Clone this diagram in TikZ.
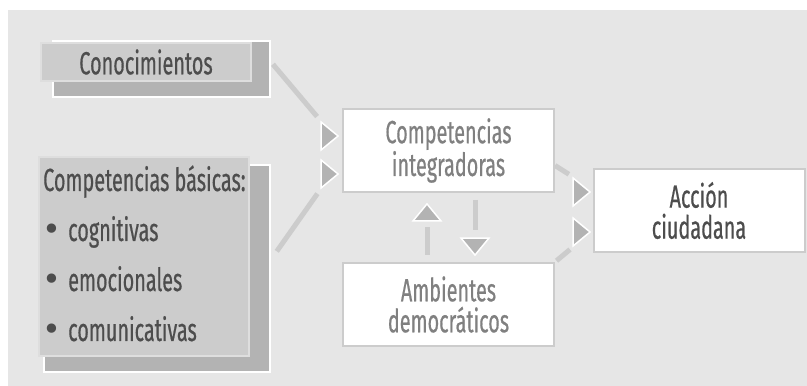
\documentclass[tikz,border=0pt]{standalone}
\usepackage{fontspec}
\setmainfont[FakeStretch=0.62, FakeBold=0.5]{Fira Sans}
\newfontfamily\puntofont{DejaVu Sans}
\usetikzlibrary{shapes.geometric}
\definecolor{fondo}{HTML}{E6E6E6}
\definecolor{linea}{HTML}{CCCCCC}
\definecolor{sombra}{HTML}{B3B3B3}
\definecolor{frente}{HTML}{CCCCCC}
\definecolor{bordefrente}{HTML}{DEDEDE}
\definecolor{textoosc}{HTML}{4D4D4D}
\definecolor{textoclaro}{HTML}{808080}
\begin{document}
\begin{tikzpicture}[x=1pt,y=1pt,
	every node/.style={font=\fontsize{32}{31}\selectfont, inner sep=0pt},
	caja/.style={draw=linea, fill=white, line width=2pt, minimum width=211pt, minimum height=83pt, align=center},
	sombrabox/.style={draw=white, fill=sombra, line width=2pt},
	frentebox/.style={draw=bordefrente, fill=frente, line width=2pt},
	punta/.style={isosceles triangle, isosceles triangle stretches, draw=white, fill=sombra, line width=1.5pt, minimum width=28pt, minimum height=17pt, anchor=apex},
	conector/.style={draw=linea, line width=5pt}]
	\useasboundingbox (0,0) rectangle (807,386);
	\fill[fondo] (8,0) rectangle (807,376);
	% cajas de la izquierda
	\node[sombrabox, minimum width=217pt, minimum height=56pt] (sombraA) at (161.5,317) {};
	\node[frentebox, minimum width=210pt, minimum height=38pt, text=textoosc] (conoc) at (146,324) {Conocimientos};
	\node[sombrabox, minimum width=226pt, minimum height=207pt] (sombraB) at (157,117.5) {};
	\node[frentebox, minimum width=210pt, minimum height=199pt] (basicas) at (144,129.5) {};
	\node[anchor=base west, text=textoosc] (titulo) at (43,195) {Competencias básicas:};
	\foreach \t [count=\i] in {cognitivas, emocionales, comunicativas}
		\node[anchor=base west, text=textoosc] (item\i) at (42,195-50*\i) {\makebox[26pt][l]{\puntofont •}\t};
	% cajas del centro y la derecha
	\node[caja, text=textoclaro] (integ) at (448.5,235.5) {Competencias\\integradoras};
	\node[caja, text=textoclaro] (ambient) at (448.5,81.5) {Ambientes\\democráticos};
	\node[caja, text=textoosc] (accion) at (699,175.5) {Acción\\ciudadana};
	% puntas
	\node[punta] (puntaA) at (340,250) {};
	\node[punta] (puntaB) at (340,212) {};
	\node[punta] (puntaC) at (592,194) {};
	\node[punta] (puntaD) at (592,154) {};
	\node[punta, shape border rotate=90] (puntaE) at (427,184) {};
	\node[punta, shape border rotate=270] (puntaF) at (475,129) {};
	% conectores
	\draw[conector, shorten <=3pt, shorten >=5pt] (sombraA.east |- conoc.east) -- (puntaA.left corner);
	\draw[conector, shorten <=10pt, shorten >=5pt] ([yshift=9pt]sombraB.east) -- (puntaB.right corner);
	\draw[conector, shorten >=4pt] ([yshift=-15pt]integ.east) -- (puntaC.left corner);
	\draw[conector, shorten <=2pt, shorten >=3pt] (ambient.north east) -- (puntaD.right corner);
	\draw[conector, shorten <=7pt, shorten >=5pt] (ambient.north -| puntaE.apex) -- (puntaE.lower side);
	\draw[conector, shorten <=7pt, shorten >=7pt] (integ.south -| puntaF.apex) -- (puntaF.lower side);
\end{tikzpicture}
\end{document}
